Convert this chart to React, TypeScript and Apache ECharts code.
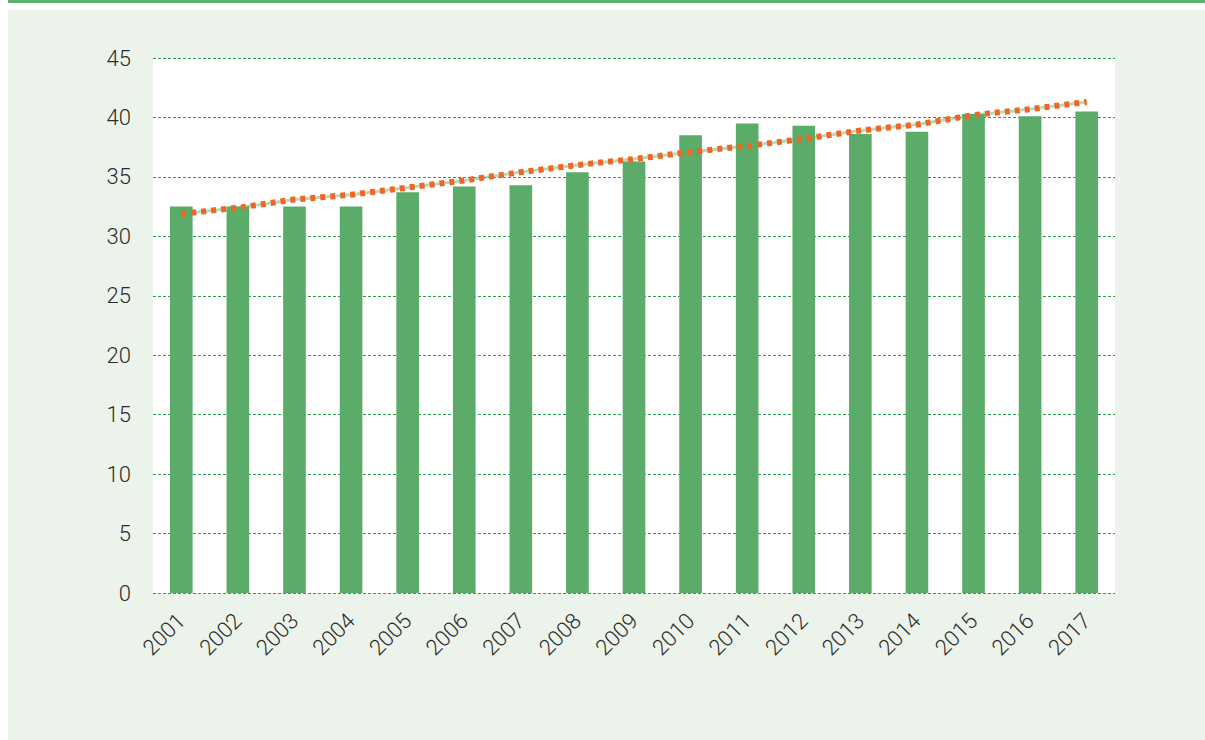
import React, { useEffect, useRef } from "react";
import * as echarts from "echarts";

const years = ["2001","2002","2003","2004","2005","2006","2007","2008","2009","2010","2011","2012","2013","2014","2015","2016","2017"];
const values = [32.5, 32.5, 32.5, 32.5, 33.7, 34.2, 34.3, 35.4, 36.3, 38.5, 39.5, 39.3, 38.6, 38.8, 40.3, 40.1, 40.5];
const trend = [31.9, 32.4, 33.1, 33.5, 34.1, 34.7, 35.4, 36.0, 36.5, 37.1, 37.6, 38.2, 38.9, 39.4, 40.2, 40.7, 41.3];

export default function App() {
  const ref = useRef<HTMLDivElement>(null);
  useEffect(() => {
    if (!ref.current) return;
    const chart = echarts.init(ref.current, null, { renderer: "svg" });
    const font = "Roboto";
    chart.setOption({
      animation: false,
      graphic: [
        { type: "rect", z: -10, shape: { x: 8, y: 0, width: 1197, height: 3 }, style: { fill: "#5DB06B" } },
        { type: "rect", z: -10, shape: { x: 8, y: 10, width: 1197, height: 730 }, style: { fill: "#EBF3EA" } },
      ],
      grid: {
        left: 153, right: 90, top: 58, bottom: 147,
        show: true, backgroundColor: "#FFFFFF", borderWidth: 0, z: 0,
      },
      xAxis: {
        type: "category",
        data: years,
        axisLine: { show: false },
        axisTick: { show: false },
        axisLabel: {
          rotate: 45, margin: 24, color: "#2B2B2B",
          fontFamily: font, fontSize: 22, fontWeight: 300,
        },
      },
      yAxis: {
        type: "value",
        min: 0, max: 45, interval: 5,
        axisLine: { show: false },
        axisTick: { show: false },
        axisLabel: { margin: 22, color: "#2B2B2B", fontFamily: font, fontSize: 22, fontWeight: 300 },
        splitLine: { lineStyle: { color: "#27A050", type: [3, 2], width: 1.2 } },
      },
      series: [
        {
          type: "bar",
          data: values,
          barWidth: "40%",
          itemStyle: { color: "#5AAC68" },
          z: 2,
        },
        {
          type: "line",
          data: trend,
          symbol: "none",
          lineStyle: { color: "rgba(90,172,104,0.45)", width: 3 },
          z: 3,
        },
        {
          type: "line",
          data: trend,
          symbol: "none",
          lineStyle: { color: "#F26522", width: 6, type: [5, 5], cap: "butt" },
          z: 4,
        },
      ],
    });
    return () => chart.dispose();
  }, []);
  return <div ref={ref} style={{ position: "absolute", left: 0, top: 0, width: 1205, height: 740 }} />;
}
